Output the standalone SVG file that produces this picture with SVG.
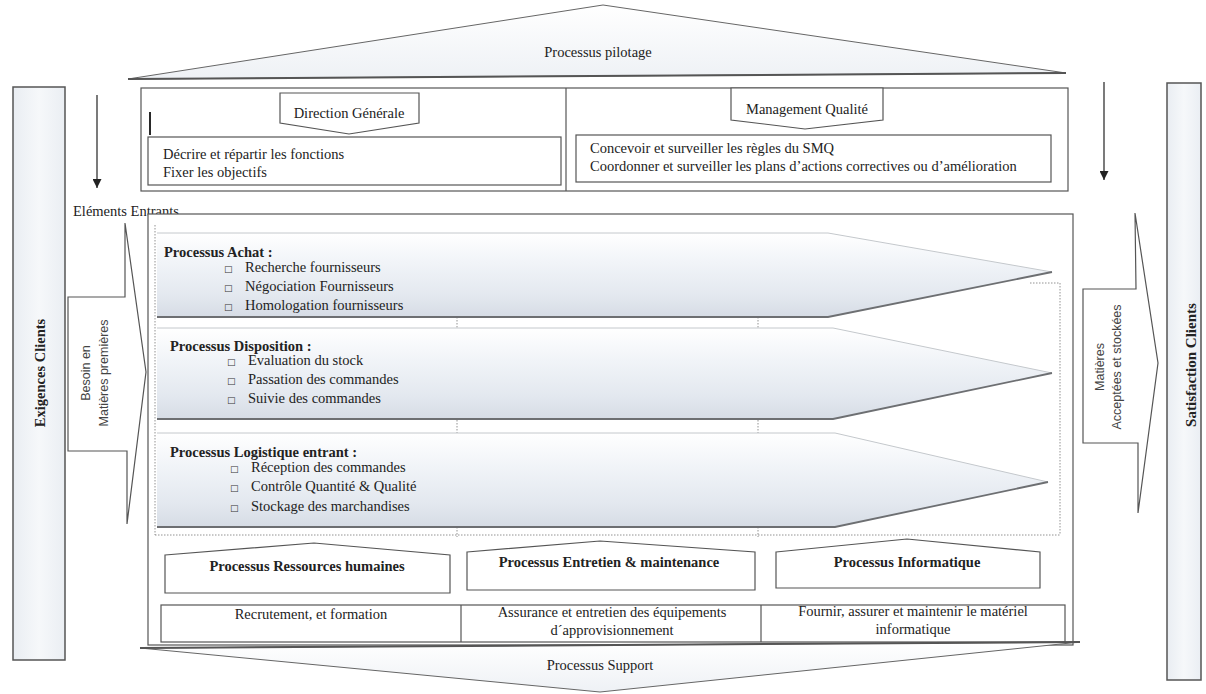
<svg xmlns="http://www.w3.org/2000/svg" width="1206" height="694" viewBox="0 0 1206 694">
<style>
.t{font-family:"Liberation Serif","Times New Roman",serif;font-size:14.5px;fill:#222}
.tb{font-family:"Liberation Serif","Times New Roman",serif;font-size:14.5px;font-weight:bold;fill:#222}
.tl{font-family:"Liberation Serif","Times New Roman",serif;font-size:14.5px;fill:#222}
.ts{font-family:"Liberation Sans",Arial,sans-serif;font-size:12.5px;fill:#444}
.bul{font-family:"DejaVu Sans",sans-serif;font-size:9px;fill:#333}
.c{text-anchor:middle}
.box{fill:#fff;stroke:#555;stroke-width:1.2}
.col{fill:url(#gcol);stroke:#555;stroke-width:1.5}
.band{fill:url(#gband);stroke:none}
.btop{fill:none;stroke:#c4c8cc;stroke-width:1}
.bbot{fill:none;stroke:#6d6f72;stroke-width:1.8}
.dot{fill:none;stroke:#777;stroke-width:0.8;stroke-dasharray:1.5 1.5}
.chev{fill:url(#gchev);stroke:#666;stroke-width:1}
.arr{stroke:#222;stroke-width:1.2;fill:none;marker-end:url(#ah)}
</style>
<defs>
<linearGradient id="gband" x1="0" y1="0" x2="0" y2="1">
<stop offset="0" stop-color="#ffffff"/>
<stop offset="0.35" stop-color="#f1f4f8"/>
<stop offset="0.75" stop-color="#e3e8ef"/>
<stop offset="1" stop-color="#d6dce5"/>
</linearGradient>
<linearGradient id="gcol" x1="0" y1="0" x2="1" y2="0">
<stop offset="0" stop-color="#e9edf2"/>
<stop offset="0.5" stop-color="#f6f8fa"/>
<stop offset="1" stop-color="#eaeef3"/>
</linearGradient>
<linearGradient id="gchev" x1="0" y1="0" x2="0" y2="1">
<stop offset="0" stop-color="#ffffff"/>
<stop offset="1" stop-color="#eef1f5"/>
</linearGradient>
<marker id="ah" viewBox="0 0 10 10" refX="10" refY="5" markerWidth="11" markerHeight="9" markerUnits="userSpaceOnUse" orient="auto">
<path d="M0,0 L10,5 L0,10 Z" fill="#222"/>
</marker>
</defs>
<rect width="1206" height="694" fill="#fff"/>

<g id="pilotage-chevron">
<polygon class="chev" points="128,79 603,5 1066,73"/>
<line x1="128" y1="79" x2="1066" y2="73" stroke="#555" stroke-width="2"/>
<text class="t c" x="598" y="57">Processus pilotage</text>
</g>

<g id="pilotage-box">
<rect class="box" x="141" y="88" width="927" height="103"/>
<line x1="566" y1="88" x2="566" y2="191" stroke="#555" stroke-width="1.2"/>
<line x1="150" y1="112" x2="150" y2="135" stroke="#111" stroke-width="1.8"/>
</g>

<g id="direction-generale">
<polygon class="box" points="280,93 419,93 419,123 349,134 280,123"/>
<text class="t c" x="349" y="118">Direction Générale</text>
</g>
<g id="dg-desc">
<rect class="box" x="148" y="137" width="413" height="48"/>
<text class="t" x="163" y="159">Décrire et répartir les fonctions</text>
<text class="t" x="163" y="177">Fixer les objectifs</text>
</g>

<g id="management-qualite">
<polygon class="box" points="731,88 883,88 883,120 805,129 731,120"/>
<text class="t c" x="807" y="114">Management Qualité</text>
</g>
<g id="mq-desc">
<rect class="box" x="576" y="135" width="475" height="47"/>
<text class="t" x="590" y="153">Concevoir et surveiller les règles du SMQ</text>
<text class="t" x="590" y="171">Coordonner et surveiller les plans d’actions correctives ou d’amélioration</text>
</g>

<g id="exigences-clients">
<rect class="col" x="13" y="87" width="52" height="573"/>
<text class="tb c" transform="translate(45,373) rotate(-90)">Exigences Clients</text>
</g>

<g id="satisfaction-clients">
<rect class="col" x="1167" y="83" width="34" height="597"/>
<text class="tb c" style="font-size:15px" transform="translate(1196,365) rotate(-90)">Satisfaction Clients</text>
</g>

<g id="elements-entrants">
<text class="tl" x="73" y="216">Eléments  Entrants</text>
</g>

<g id="besoin-arrow">
<polygon class="box" points="68,297 125,297 125,223 146,372 127,524 127,451 68,451"/>
<text class="ts c" transform="translate(90,373) rotate(-90)">Besoin en</text>
<text class="ts c" transform="translate(108,373) rotate(-90)">Matières premières</text>
</g>

<g id="matieres-arrow">
<polygon class="box" points="1083,289 1136,289 1135,213 1158,363 1138,513 1138,443 1083,443"/>
<text class="ts c" transform="translate(1104,367) rotate(-90)">Matières</text>
<text class="ts c" transform="translate(1121,367) rotate(-90)">Acceptées et stockées</text>
</g>

<g id="main-box">
<rect class="box" x="148" y="214" width="925" height="431"/>
</g>

<g id="dotted-frames">
<line class="dot" x1="155" y1="225" x2="155" y2="535"/>
<line class="dot" x1="1060" y1="283" x2="1060" y2="535"/>
<line class="dot" x1="155" y1="535" x2="1060" y2="535"/>
<line class="dot" x1="1030" y1="283" x2="1060" y2="283"/>
<line class="dot" x1="457" y1="317" x2="457" y2="330"/>
<line class="dot" x1="758" y1="317" x2="758" y2="330"/>
<line class="dot" x1="457" y1="420" x2="457" y2="436"/>
<line class="dot" x1="758" y1="420" x2="758" y2="436"/>
<line class="dot" x1="457" y1="527" x2="457" y2="537"/>
<line class="dot" x1="758" y1="527" x2="758" y2="537"/>
</g>

<g id="processus-achat">
<polygon class="band" points="157,233 828,233 1052,272 828,317 157,317"/>
<polyline class="btop" points="157,233 828,233 1052,272"/>
<polyline class="bbot" points="157,317 828,317 1052,272"/>
<text class="tb" x="164" y="257">Processus Achat :</text>
<text class="bul" x="224" y="272">□</text><text class="tl" x="245" y="272">Recherche fournisseurs</text>
<text class="bul" x="224" y="291">□</text><text class="tl" x="245" y="291">Négociation Fournisseurs</text>
<text class="bul" x="224" y="310">□</text><text class="tl" x="245" y="310">Homologation fournisseurs</text>
</g>

<g id="processus-disposition">
<polygon class="band" points="157,328 833,328 1052,373 833,419 157,419"/>
<polyline class="btop" points="157,328 833,328 1052,373"/>
<polyline class="bbot" points="157,419 833,419 1052,373"/>
<text class="tb" x="170" y="351">Processus Disposition :</text>
<text class="bul" x="227" y="365">□</text><text class="tl" x="248" y="365">Evaluation du stock</text>
<text class="bul" x="227" y="384">□</text><text class="tl" x="248" y="384">Passation des commandes</text>
<text class="bul" x="227" y="403">□</text><text class="tl" x="248" y="403">Suivie des commandes</text>
</g>

<g id="processus-logistique">
<polygon class="band" points="157,433 835,433 1048,482 835,527 157,527"/>
<polyline class="btop" points="157,433 835,433 1048,482"/>
<polyline class="bbot" points="157,527 835,527 1048,482"/>
<text class="tb" x="170" y="457">Processus Logistique entrant :</text>
<text class="bul" x="230" y="472">□</text><text class="tl" x="251" y="472">Réception des commandes</text>
<text class="bul" x="230" y="491">□</text><text class="tl" x="251" y="491">Contrôle Quantité &amp; Qualité</text>
<text class="bul" x="230" y="511">□</text><text class="tl" x="251" y="511">Stockage des marchandises</text>
</g>

<g id="processus-rh">
<polygon class="box" points="165,555 314,543 450,555 450,593 165,593"/>
<text class="tb c" x="307" y="571">Processus Ressources humaines</text>
</g>
<g id="processus-entretien">
<polygon class="box" points="467,552 600,541 755,552 755,590 467,590"/>
<text class="tb c" x="609" y="567">Processus Entretien &amp; maintenance</text>
</g>
<g id="processus-informatique">
<polygon class="box" points="776,552 907,539 1040,552 1040,588 776,588"/>
<text class="tb c" x="907" y="567">Processus Informatique</text>
</g>

<g id="support-table">
<rect class="box" x="161" y="605" width="904" height="37"/>
<line x1="461" y1="605" x2="461" y2="642" stroke="#555" stroke-width="1.2"/>
<line x1="761" y1="605" x2="761" y2="642" stroke="#555" stroke-width="1.2"/>
<text class="t c" x="311" y="619">Recrutement, et formation</text>
<text class="t c" x="612" y="617">Assurance et entretien des équipements</text>
<text class="t c" x="612" y="635">d´approvisionnement</text>
<text class="t c" x="913" y="616">Fournir, assurer et maintenir le matériel</text>
<text class="t c" x="913" y="634">informatique</text>
</g>

<g id="support-chevron">
<polygon class="chev" points="140,648 1080,642 600,692"/>
<line x1="140" y1="648" x2="1080" y2="642" stroke="#555" stroke-width="2"/>
<text class="t c" x="600" y="670">Processus Support</text>
</g>

<g id="connectors">
<line class="arr" x1="97" y1="95" x2="97" y2="188"/>
<line class="arr" x1="1104" y1="82" x2="1104" y2="180"/>
</g>
</svg>
